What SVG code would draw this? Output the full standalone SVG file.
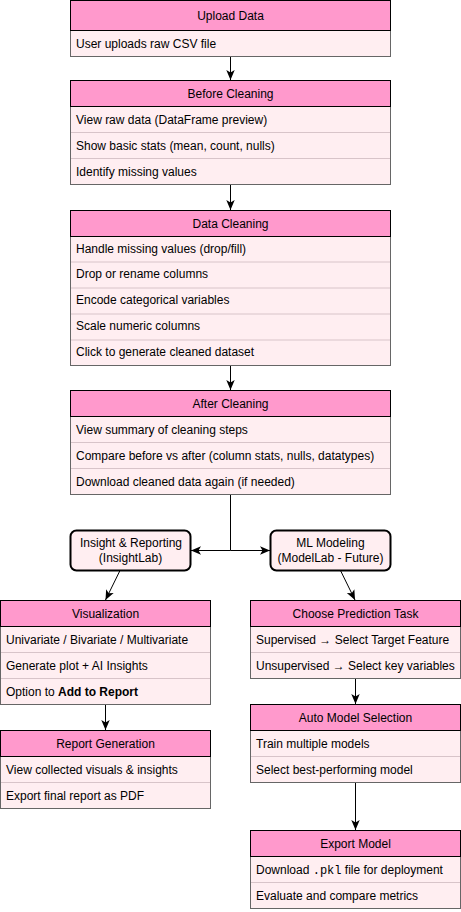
<svg xmlns="http://www.w3.org/2000/svg" width="461" height="912" viewBox="0 0 461 912">
<style>
.hd{fill:#FF99CC;stroke:#000000;stroke-width:1}
.bd{fill:#FFEEF1;stroke:#666666;stroke-width:1}
.dv{stroke:#D8C4C9;stroke-width:1}
.rb{fill:#FFEEF1;stroke:#000000;stroke-width:2}
.t{font-family:"Liberation Sans",Arial,sans-serif;font-size:12px;fill:#000000}
.c{text-anchor:middle}
.m{font-family:"Liberation Mono","Courier New",monospace}
.cn{fill:none;stroke:#000000;stroke-width:1}
</style>
<defs>
<marker id="ar" markerUnits="userSpaceOnUse" markerWidth="10" markerHeight="10" viewBox="0 0 10 10" refX="10" refY="5" orient="auto">
<path d="M0,0.8 L10,5 L0,9.2 L2.5,5 Z" fill="#000000"/>
</marker>
</defs>
<rect width="461" height="912" fill="#FFFFFF"/>

<g id="connectors">
<path class="cn" d="M230.5,56 V80" marker-end="url(#ar)"/>
<path class="cn" d="M230.5,184 V210" marker-end="url(#ar)"/>
<path class="cn" d="M230.5,366 V390" marker-end="url(#ar)"/>
<path class="cn" d="M230.5,494 V550.5 H191" marker-end="url(#ar)"/>
<path class="cn" d="M230.5,550.5 H270" marker-end="url(#ar)"/>
<path class="cn" d="M120,570.5 L105.5,600" marker-end="url(#ar)"/>
<path class="cn" d="M340.5,570.5 L355,600" marker-end="url(#ar)"/>
<path class="cn" d="M105.5,704 V730" marker-end="url(#ar)"/>
<path class="cn" d="M355.5,678 V704" marker-end="url(#ar)"/>
<path class="cn" d="M355.5,782 V830" marker-end="url(#ar)"/>
</g>

<g id="upload-data">
<rect class="bd" x="70.5" y="30.5" width="320" height="26"/>
<rect class="hd" x="70.5" y="0.5" width="320" height="30"/>
<text class="t c" x="230.5" y="19.5">Upload Data</text>
<text class="t" x="76" y="48">User uploads raw CSV file</text>
</g>

<g id="before-cleaning">
<rect class="bd" x="70.5" y="106.5" width="320" height="78"/>
<line class="dv" x1="71" y1="132.5" x2="390" y2="132.5"/>
<line class="dv" x1="71" y1="158.5" x2="390" y2="158.5"/>
<rect class="hd" x="70.5" y="80.5" width="320" height="26"/>
<text class="t c" x="230.5" y="97.5">Before Cleaning</text>
<text class="t" x="76" y="124">View raw data (DataFrame preview)</text>
<text class="t" x="76" y="150">Show basic stats (mean, count, nulls)</text>
<text class="t" x="76" y="176">Identify missing values</text>
</g>

<g id="data-cleaning">
<rect class="bd" x="70.5" y="236.5" width="320" height="129"/>
<line class="dv" x1="71" y1="262" x2="390" y2="262"/>
<line class="dv" x1="71" y1="288" x2="390" y2="288"/>
<line class="dv" x1="71" y1="314" x2="390" y2="314"/>
<line class="dv" x1="71" y1="340" x2="390" y2="340"/>
<rect class="hd" x="70.5" y="210.5" width="320" height="26"/>
<text class="t c" x="230.5" y="227.5">Data Cleaning</text>
<text class="t" x="76" y="253">Handle missing values (drop/fill)</text>
<text class="t" x="76" y="278">Drop or rename columns</text>
<text class="t" x="76" y="304">Encode categorical variables</text>
<text class="t" x="76" y="330">Scale numeric columns</text>
<text class="t" x="76" y="356">Click to generate cleaned dataset</text>
</g>

<g id="after-cleaning">
<rect class="bd" x="70.5" y="416.5" width="320" height="78"/>
<line class="dv" x1="71" y1="442.5" x2="390" y2="442.5"/>
<line class="dv" x1="71" y1="468.5" x2="390" y2="468.5"/>
<rect class="hd" x="70.5" y="390.5" width="320" height="26"/>
<text class="t c" x="230.5" y="407.5">After Cleaning</text>
<text class="t" x="76" y="434">View summary of cleaning steps</text>
<text class="t" x="76" y="460">Compare before vs after (column stats, nulls, datatypes)</text>
<text class="t" x="76" y="486">Download cleaned data again (if needed)</text>
</g>

<g id="insight-reporting">
<rect class="rb" x="70.5" y="530.5" width="120" height="40" rx="6" ry="6"/>
<text class="t c" x="131" y="547">Insight &amp; Reporting</text>
<text class="t c" x="130.5" y="562">(InsightLab)</text>
</g>

<g id="ml-modeling">
<rect class="rb" x="270.5" y="530.5" width="120" height="40" rx="6" ry="6"/>
<text class="t c" x="330.5" y="547">ML Modeling</text>
<text class="t c" x="330.5" y="562">(ModelLab - Future)</text>
</g>

<g id="visualization">
<rect class="bd" x="0.5" y="626.5" width="210" height="78"/>
<line class="dv" x1="1" y1="652.5" x2="210" y2="652.5"/>
<line class="dv" x1="1" y1="678.5" x2="210" y2="678.5"/>
<rect class="hd" x="0.5" y="600.5" width="210" height="26"/>
<text class="t c" x="105.5" y="617.5">Visualization</text>
<text class="t" x="6" y="644">Univariate / Bivariate / Multivariate</text>
<text class="t" x="6" y="670">Generate plot + AI Insights</text>
<text class="t" x="6" y="696">Option to <tspan font-weight="bold">Add to Report</tspan></text>
</g>

<g id="report-generation">
<rect class="bd" x="0.5" y="756.5" width="210" height="52"/>
<line class="dv" x1="1" y1="782.5" x2="210" y2="782.5"/>
<rect class="hd" x="0.5" y="730.5" width="210" height="26"/>
<text class="t c" x="105.5" y="747.5">Report Generation</text>
<text class="t" x="6" y="774">View collected visuals &amp; insights</text>
<text class="t" x="6" y="800">Export final report as PDF</text>
</g>

<g id="choose-prediction-task">
<rect class="bd" x="250.5" y="626.5" width="210" height="52"/>
<line class="dv" x1="251" y1="652.5" x2="460" y2="652.5"/>
<rect class="hd" x="250.5" y="600.5" width="210" height="26"/>
<text class="t c" x="355.5" y="617.5">Choose Prediction Task</text>
<text class="t" x="256" y="644">Supervised → Select Target Feature</text>
<text class="t" x="256" y="670">Unsupervised → Select key variables</text>
</g>

<g id="auto-model-selection">
<rect class="bd" x="250.5" y="730.5" width="210" height="52"/>
<line class="dv" x1="251" y1="756.5" x2="460" y2="756.5"/>
<rect class="hd" x="250.5" y="704.5" width="210" height="26"/>
<text class="t c" x="355.5" y="721.5">Auto Model Selection</text>
<text class="t" x="256" y="748">Train multiple models</text>
<text class="t" x="256" y="774">Select best-performing model</text>
</g>

<g id="export-model">
<rect class="bd" x="250.5" y="856.5" width="210" height="52"/>
<line class="dv" x1="251" y1="882.5" x2="460" y2="882.5"/>
<rect class="hd" x="250.5" y="830.5" width="210" height="26"/>
<text class="t c" x="355.5" y="847.5">Export Model</text>
<text class="t" x="256" y="874">Download <tspan class="m">.pkl</tspan> file for deployment</text>
<text class="t" x="256" y="900">Evaluate and compare metrics</text>
</g>
</svg>
